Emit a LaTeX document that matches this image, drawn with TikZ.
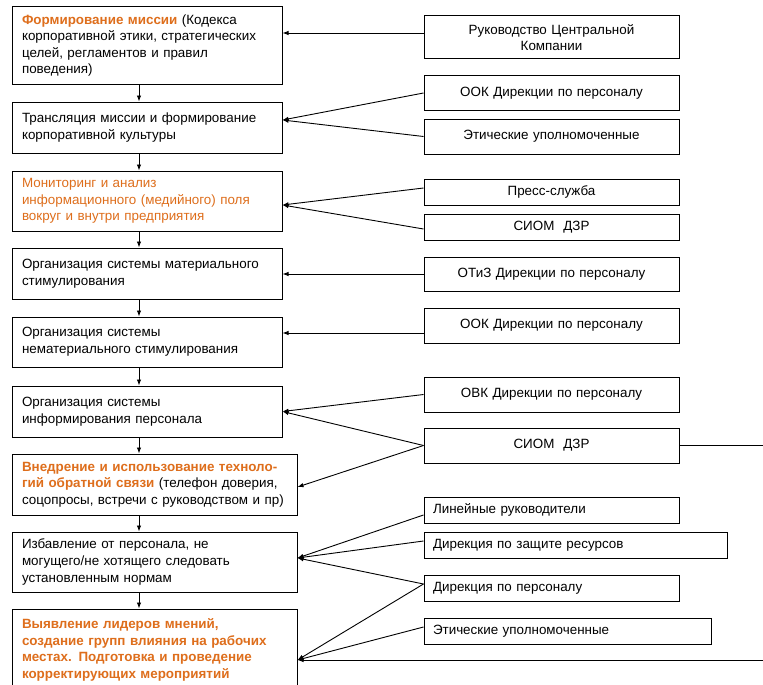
\documentclass[tikz,border=0pt]{standalone}
\usepackage{fontspec}
\setmainfont{Liberation Sans}
\usetikzlibrary{arrows.meta,calc}
\definecolor{accent}{RGB}{222,110,28}
\newcommand{\hlb}[1]{\textcolor{accent}{\bfseries #1}}
\newcommand{\hlr}[1]{\textcolor{accent}{#1}}

\tikzset{
  box/.style={draw=black, line width=1pt, fill=white, rectangle, inner ysep=2pt,
              font=\fontsize{13.4}{16.6}\selectfont},
  stage/.style={box, inner xsep=10pt, align=left},
  unit/.style={box, inner xsep=4pt, align=center},
  unitl/.style={box, inner xsep=9pt, align=left},
  link/.style={line width=0.9pt, -{Latex[length=6pt,width=4.5pt]}},
  lead/.style={line width=0.9pt},
}

\begin{document}
\begin{tikzpicture}[x=1pt, y=-1pt]
\clip (0,0) rectangle (763,685);
\fill[white] (0,0) rectangle (763,685);

% ---- process stages (left column)
\node[stage, minimum width=270pt, minimum height=77pt, text width=250pt] (b1) at (147,45.5)
  {\hlb{Формирование миссии} (Кодекса\\корпоративной этики, стратегических\\целей, регламентов и правил\\поведения)};
\node[stage, minimum width=270pt, minimum height=51pt, text width=250pt] (b2) at (147,127.5)
  {Трансляция миссии и формирование\\корпоративной культуры};
\node[stage, minimum width=270pt, minimum height=60pt, text width=250pt] (b3) at (147,201)
  {\hlr{Мониторинг и анализ}\\\hlr{информационного (медийного) поля}\\\hlr{вокруг и внутри предприятия}};
\node[stage, minimum width=270pt, minimum height=51pt, text width=250pt] (b4) at (147,273.5)
  {Организация системы материального\\стимулирования};
\node[stage, minimum width=270pt, minimum height=50pt, text width=250pt] (b5) at (147,342)
  {Организация системы\\нематериального стимулирования};
\node[stage, minimum width=270pt, minimum height=51pt, text width=250pt] (b6) at (147,411.5)
  {Организация системы\\информирования персонала};
\node[stage, minimum width=285pt, minimum height=61pt, text width=265pt] (b7) at (154.5,484.5)
  {\hlb{Внедрение и использование техноло-}\\\hlb{гий обратной связи} (телефон доверия,\\соцопросы, встречи с руководством и пр)};
\node[stage, minimum width=285pt, minimum height=60pt, text width=265pt] (b8) at (154.5,562)
  {Избавление от персонала, не\\могущего/не хотящего следовать\\установленным нормам};
\node[stage, minimum width=285pt, minimum height=82pt, text width=265pt] (b9) at (154.5,650)
  {\hlb{Выявление лидеров мнений,}\\\hlb{создание групп влияния на рабочих}\\\hlb{местах. Подготовка и проведение}\\\hlb{корректирующих мероприятий}};

% ---- responsible units (right column)
\node[unit, minimum width=255pt, minimum height=43pt, text width=247pt] (r1) at (551.5,37.5)
  {Руководство Центральной\\Компании};
\node[unit, minimum width=255pt, minimum height=34pt, text width=247pt] (r2) at (551.5,93)
  {ООК Дирекции по персоналу};
\node[unit, minimum width=255pt, minimum height=35pt, text width=247pt] (r3) at (551.5,136.5)
  {Этические уполномоченные};
\node[unit, minimum width=255pt, minimum height=26pt, text width=247pt] (r4) at (551.5,192)
  {Пресс-служба};
\node[unit, minimum width=255pt, minimum height=26pt, text width=247pt] (r5) at (551.5,227)
  {СИОМ\ \ ДЗР};
\node[unit, minimum width=255pt, minimum height=34pt, text width=247pt] (r6) at (551.5,274)
  {ОТиЗ Дирекции по персоналу};
\node[unit, minimum width=255pt, minimum height=35pt, text width=247pt] (r7) at (551.5,325.5)
  {ООК Дирекции по персоналу};
\node[unit, minimum width=255pt, minimum height=35pt, text width=247pt] (r8) at (551.5,394.5)
  {ОВК Дирекции по персоналу};
\node[unit, minimum width=255pt, minimum height=35pt, text width=247pt] (r9) at (551.5,445.5)
  {СИОМ\ \ ДЗР};
\node[unitl, minimum width=255pt, minimum height=26pt, text width=237pt] (r10) at (551.5,510)
  {Линейные руководители};
\node[unitl, minimum width=303pt, minimum height=26pt, text width=285pt] (r11) at (575.5,545)
  {Дирекция по защите ресурсов};
\node[unitl, minimum width=255pt, minimum height=26pt, text width=237pt] (r12) at (551.5,588)
  {Дирекция по персоналу};
\node[unitl, minimum width=287pt, minimum height=26pt, text width=269pt] (r13) at (567.5,631)
  {Этические уполномоченные};

% ---- process flow
\coordinate (spine) at (139,0);
\foreach \a/\b in {b1/b2, b2/b3, b3/b4, b4/b5, b5/b6, b6/b7, b7/b8, b8/b9}
  \draw[link] (\a.south -| spine) -- (\b.north -| spine);

% ---- contributions of the units
\draw[link] ([yshift=4.5pt]r1.west) -- ([yshift=4.5pt]r1.west -| b1.east);
\draw[link] (r2.west) -- ([yshift=7.5pt]b2.east);
\draw[link] (r3.west) -- ([yshift=7.5pt]b2.east);
\draw[link] ([yshift=4pt]r4.west) -- ([yshift=-4pt]b3.east);
\draw[link] ([yshift=-2pt]r5.west) -- ([yshift=-4pt]b3.east);
\draw[link] (r6.west) -- (r6.west -| b4.east);
\draw[link] ([yshift=-7.5pt]r7.west) -- ([yshift=-7.5pt]r7.west -| b5.east);
\draw[link] (r8.west) -- (b6.east);
\draw[link] (r9.west) -- (b6.east);
\draw[link] (r9.west) -- ([yshift=-2.5pt]b7.east);
\draw[link] ([yshift=-5pt]r10.west) -- ([yshift=4pt]b8.east);
\draw[link] ([yshift=4pt]r11.west) -- ([yshift=4pt]b8.east);
\draw[link] ([yshift=4pt]r12.west) -- ([yshift=4pt]b8.east);
\draw[link] ([yshift=4pt]r12.west) -- ([yshift=-10pt]b9.east);
\draw[link] ([yshift=4pt]r13.west) -- ([yshift=-10pt]b9.east);

% ---- leads continuing beyond the frame
\coordinate (out9) at (763,445.5);
\coordinate (out13) at (763,660);
\draw[lead] (r9.east) -- (out9);
\draw[link] (out13) -- (out13 -| b9.east);
\end{tikzpicture}
\end{document}
